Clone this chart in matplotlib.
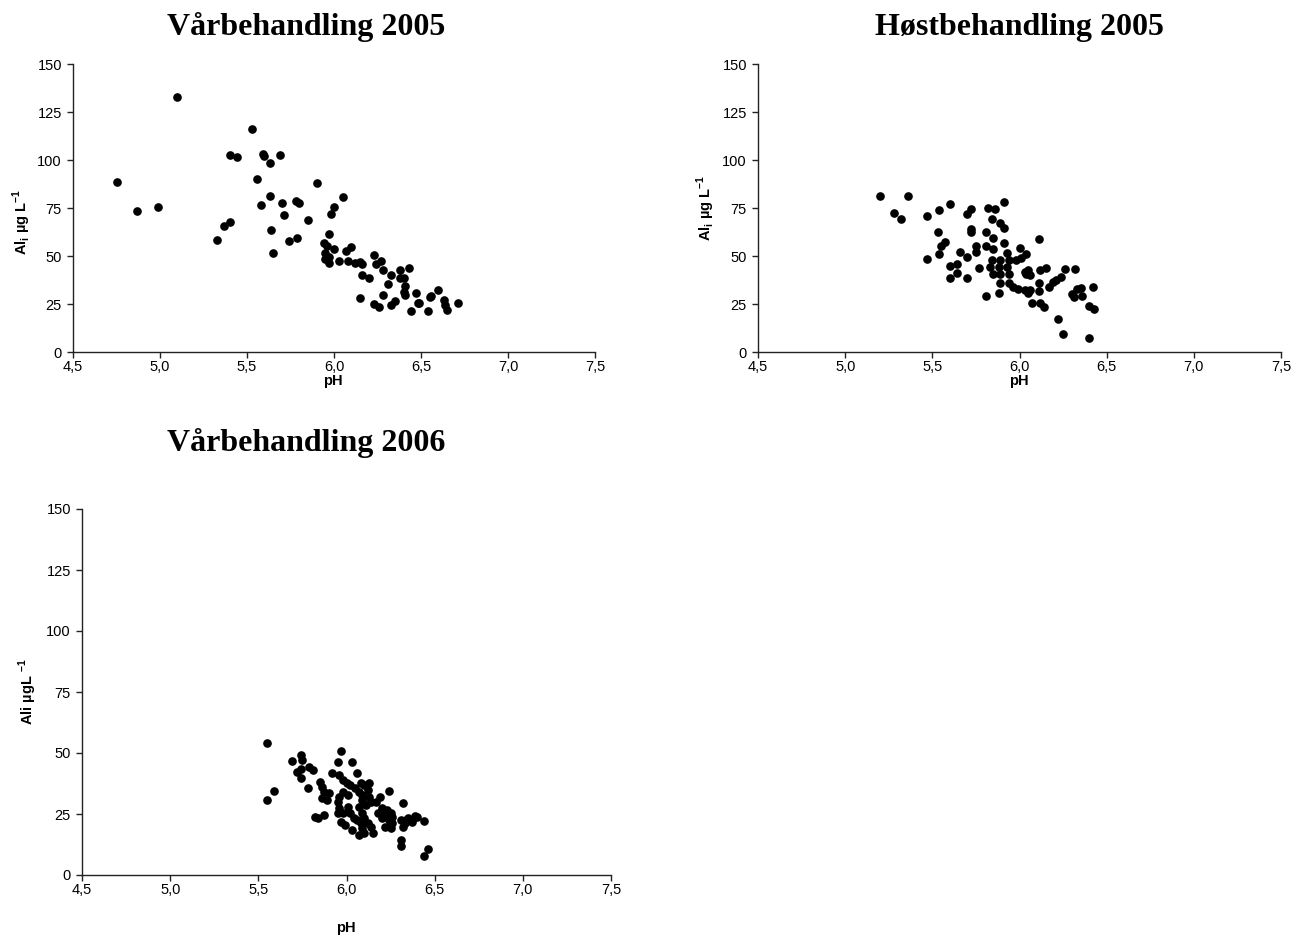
import matplotlib
import matplotlib.pyplot as plt

matplotlib.use("Agg")

plt.rcParams["font.family"] = ["Liberation Sans", "DejaVu Sans"]
plt.rcParams["mathtext.fontset"] = "custom"
plt.rcParams["mathtext.rm"] = "Liberation Sans"
plt.rcParams["mathtext.bf"] = "Liberation Sans:bold"

# Vårbehandling 2005
ph_var05 = [5.10, 4.75, 4.87, 4.99, 5.53, 5.40, 5.44, 5.59, 5.60, 5.63, 5.69, 5.56,
            5.90, 5.63, 5.58, 5.70, 5.78, 5.80, 5.71, 5.85, 6.00, 5.98, 6.05, 5.40,
            5.37, 5.33, 5.64, 5.74, 5.79, 5.65, 5.97, 5.94, 5.96, 6.00, 5.95, 5.97,
            5.95, 5.97, 6.03, 6.07, 6.10, 6.08, 6.12, 6.15, 6.16, 6.23, 6.24, 6.27,
            6.16, 6.20, 6.28, 6.33, 6.38, 6.43, 6.38, 6.40, 6.31, 6.41, 6.40, 6.41,
            6.28, 6.47, 6.15, 6.23, 6.26, 6.33, 6.35, 6.48, 6.49, 6.44, 6.54, 6.55,
            6.56, 6.60, 6.63, 6.64, 6.65, 6.71]
al_var05 = [132.6, 88.7, 73.4, 75.5, 116.1, 102.8, 101.4, 103.1, 102.0, 98.6, 102.6, 89.9,
            88.2, 81.4, 76.6, 77.6, 78.5, 77.8, 71.4, 68.9, 75.5, 72.0, 80.9, 67.9,
            65.4, 58.2, 63.5, 58.0, 59.4, 51.6, 61.3, 56.9, 55.4, 53.6, 51.6, 49.6,
            48.3, 46.5, 47.4, 52.5, 54.8, 47.5, 46.5, 47.0, 45.8, 50.3, 45.8, 47.4,
            40.3, 38.7, 42.7, 40.3, 42.5, 43.9, 38.5, 38.5, 35.4, 34.4, 31.4, 29.7,
            29.7, 30.5, 28.3, 25.0, 23.6, 24.5, 26.7, 25.7, 25.7, 21.5, 21.5, 28.5,
            29.2, 32.1, 27.1, 24.3, 21.9, 25.4]

# Høstbehandling 2005
ph_host05 = [5.20, 5.36, 5.28, 5.32, 5.47, 5.54, 5.60, 5.47, 5.53, 5.57, 5.55, 5.54,
             5.60, 5.64, 5.60, 5.64, 5.66, 5.70, 5.70, 5.72, 5.70, 5.72, 5.72, 5.75,
             5.75, 5.77, 5.82, 5.86, 5.84, 5.91, 5.89, 5.91, 5.81, 5.85, 5.91, 5.81,
             5.85, 6.00, 6.11, 5.84, 5.83, 5.85, 5.89, 5.88, 5.89, 5.93, 5.94, 5.93,
             5.94, 5.98, 6.01, 6.04, 5.89, 5.88, 5.81, 5.94, 5.96, 5.99, 6.03, 6.05,
             6.04, 6.06, 6.03, 6.05, 6.06, 6.07, 6.11, 6.11, 6.12, 6.15, 6.12, 6.14,
             6.17, 6.19, 6.21, 6.24, 6.26, 6.32, 6.22, 6.25, 6.30, 6.31, 6.33, 6.35,
             6.36, 6.42, 6.40, 6.43, 6.40]
al_host05 = [81.2, 81.4, 72.6, 69.3, 71.0, 73.8, 76.9, 48.3, 62.7, 57.5, 55.4, 51.2,
             45.0, 46.0, 38.4, 41.3, 52.3, 49.7, 38.7, 74.5, 71.9, 64.1, 62.7, 55.4,
             52.3, 43.9, 74.8, 74.6, 69.3, 77.9, 67.2, 64.4, 62.3, 59.2, 56.8, 55.2,
             53.5, 54.2, 59.0, 47.9, 44.4, 40.6, 47.9, 44.4, 40.6, 51.4, 47.9, 44.4,
             40.6, 47.9, 48.8, 51.0, 35.9, 30.9, 29.2, 35.8, 33.7, 32.6, 41.8, 42.7,
             40.6, 40.1, 32.3, 30.6, 32.3, 25.4, 35.8, 31.8, 42.7, 43.6, 25.7, 23.6,
             34.0, 36.6, 37.5, 38.9, 43.0, 43.0, 17.0, 9.2, 30.2, 28.8, 32.6, 33.2,
             29.2, 34.0, 24.1, 22.2, 7.1]

# Vårbehandling 2006
ph_var06 = [5.55, 5.59, 5.55, 5.69, 5.74, 5.75, 5.72, 5.74, 5.74, 5.79, 5.81, 5.78,
            5.85, 5.86, 5.87, 5.86, 5.82, 5.84, 5.87, 5.90, 5.89, 5.97, 5.95, 6.03,
            6.06, 5.92, 5.96, 5.98, 6.00, 6.02, 6.08, 6.10, 6.13, 5.96, 5.98, 6.01,
            6.05, 6.07, 6.09, 6.09, 6.11, 6.13, 6.14, 6.12, 5.95, 5.96, 5.98, 5.95,
            6.01, 6.02, 6.04, 6.06, 6.08, 5.97, 5.99, 6.07, 6.09, 6.10, 6.12, 6.14,
            6.09, 6.03, 6.07, 6.10, 6.15, 6.19, 6.17, 6.20, 6.24, 6.18, 6.20, 6.22,
            6.23, 6.25, 6.26, 6.24, 6.26, 6.22, 6.25, 6.32, 6.31, 6.32, 6.33, 6.35,
            6.37, 6.39, 6.31, 6.31, 6.46, 6.44, 6.44, 6.40, 6.37, 6.34]
al_var06 = [53.9, 34.5, 30.7, 46.9, 49.2, 47.1, 42.4, 43.3, 39.6, 44.1, 43.0, 35.5,
            38.3, 36.2, 34.2, 31.4, 23.9, 23.2, 24.6, 33.5, 30.7, 50.8, 46.2, 46.2,
            41.7, 41.7, 41.0, 38.9, 37.6, 36.9, 37.6, 36.9, 37.8, 32.1, 34.2, 32.8,
            35.5, 34.2, 32.8, 30.7, 28.7, 32.1, 30.1, 34.8, 30.1, 27.3, 25.6, 25.3,
            28.0, 25.3, 23.2, 22.5, 21.2, 21.9, 20.5, 28.0, 25.3, 23.2, 21.2, 19.8,
            19.1, 18.4, 16.4, 17.1, 17.1, 32.1, 30.1, 27.3, 34.4, 25.3, 23.2, 24.6,
            26.6, 25.3, 23.9, 22.5, 21.2, 19.8, 19.1, 29.4, 22.5, 19.8, 21.2, 23.2,
            22.5, 24.2, 14.3, 11.9, 10.5, 7.9, 22.2, 23.9, 21.8, 22.5]

x_ticks = [4.5, 5.0, 5.5, 6.0, 6.5, 7.0, 7.5]
y_ticks = [0, 25, 50, 75, 100, 125, 150]

W, H = 1306, 943
fig = plt.figure(figsize=(W / 100, H / 100), dpi=100)


def px_axes(x0, x1, y_top, y_bot):
    return fig.add_axes([x0 / W, 1 - y_bot / H, (x1 - x0) / W, (y_bot - y_top) / H])


def px_text(x, y, s, **kw):
    fig.text(x / W, 1 - y / H, s, ha="center", va="center", **kw)


def style(ax):
    for side in ("top", "right"):
        ax.spines[side].set_visible(False)
    for side in ("left", "bottom"):
        ax.spines[side].set_linewidth(1.0)
        ax.spines[side].set_color("#222222")
    ax.set_xlim(4.5, 7.5)
    ax.set_ylim(0, 150)
    ax.set_xticks(x_ticks)
    ax.set_xticklabels([f"{v:.1f}".replace(".", ",") for v in x_ticks])
    ax.set_yticks(y_ticks)
    ax.tick_params(direction="out", length=4, width=1, labelsize=10.5,
                   color="#222222")
    ax.tick_params(axis="x", pad=2)
    ax.tick_params(axis="y", pad=4)
    ax.patch.set_alpha(0)


panels = [
    ((73, 595, 64, 352), ph_var05, al_var05),
    ((758, 1281, 64, 352), ph_host05, al_host05),
    ((82, 611, 509, 875), ph_var06, al_var06),
]
for box, xs, ys in panels:
    ax = px_axes(*box)
    style(ax)
    ax.plot(xs, ys, "o", color="black", ms=5.2, clip_on=False)

title_kw = dict(family=["Liberation Serif", "DejaVu Serif"], fontsize=23, fontweight="bold")
px_text(306, 27, "Vårbehandling 2005", **title_kw)
px_text(1019, 27, "Høstbehandling 2005", **title_kw)
px_text(306, 443, "Vårbehandling 2006", **title_kw)

label_kw = dict(fontsize=10.5, fontweight="bold")
px_text(333, 381, "pH", **label_kw)
px_text(1019, 381, "pH", **label_kw)
px_text(346, 928, "pH", **label_kw)

ylab = r"Al$_\mathbf{i}$ µg L$^\mathbf{-1}$"
px_text(22, 222, ylab, rotation=90, **label_kw)
px_text(706, 208, ylab, rotation=90, **label_kw)
px_text(28, 692, r"Ali µgL $^\mathbf{-1}$", rotation=90, **label_kw)

fig.savefig("out.png", dpi=100)
